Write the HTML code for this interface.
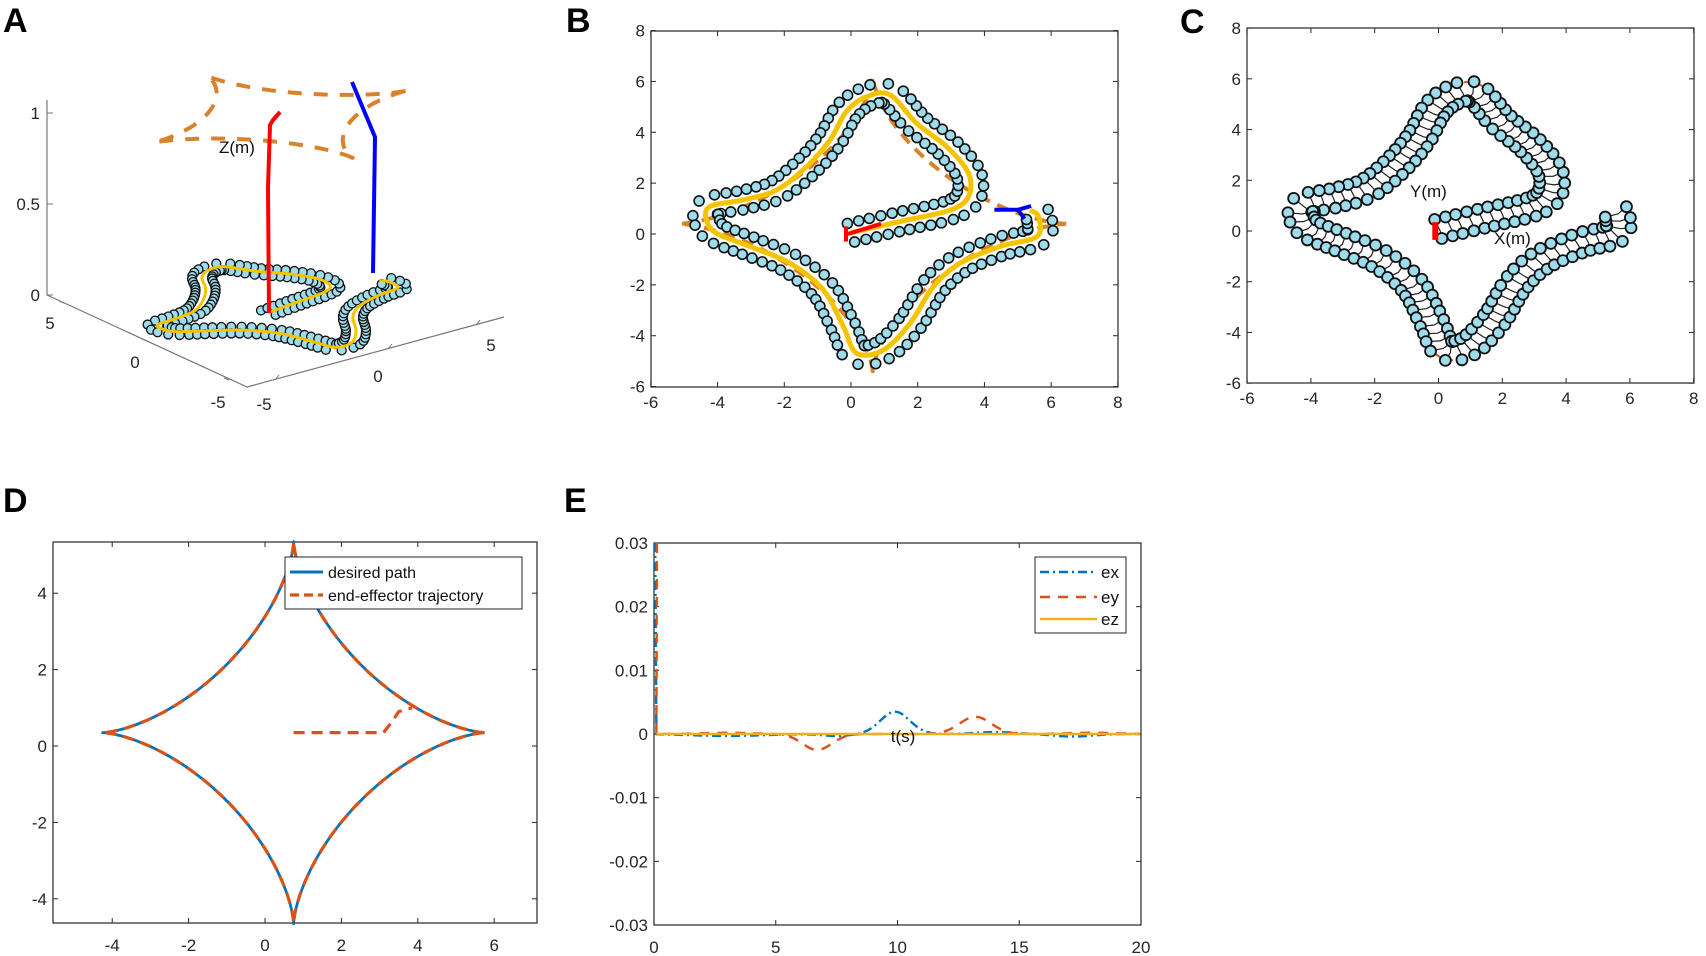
<!DOCTYPE html>
<html><head><meta charset="utf-8"><style>
html,body{margin:0;padding:0;background:#fff;}
svg{display:block;font-family:"Liberation Sans",Arial,sans-serif;}
</style></head><body>
<svg id="s" width="1706" height="956" viewBox="0 0 1706 956" xmlns="http://www.w3.org/2000/svg">
<rect width="1706" height="956" fill="#fff"/>
<g font-weight="bold" font-size="34" fill="#000">
<text x="3" y="32">A</text><text x="566" y="32">B</text><text x="1180" y="33">C</text>
<text x="3" y="512">D</text><text x="564" y="512">E</text>
</g>
<g id="g"></g>
</svg>
<script>
const NS="http://www.w3.org/2000/svg";const G=document.getElementById('g');
function el(t,a,txt){const e=document.createElementNS(NS,t);for(const k in a)e.setAttribute(k,a[k]);if(txt!==undefined)e.textContent=txt;G.appendChild(e);return e;}
function pl(pts,a){a.d='M'+pts.map(p=>p[0].toFixed(1)+' '+p[1].toFixed(1)).join(' L');a.fill='none';a['stroke-linejoin']='round';return el('path',a);}
const TC='#262626';
const cp=[[0,0.05],[1.5,0.5],[2.97,0.94],[3.52,1.47],[3.52,2.39],[2.87,3.43],[1.97,4.35],[1.17,5.47],[0.47,5.4],[-0.13,4.83],[-0.63,3.7],[-1.33,2.65],[-2.23,1.73],[-3.23,1.34],[-4.23,1.08],[-4.33,0.55],[-4.03,0.03],[-3.03,-0.49],[-1.83,-1.15],[-0.83,-2.2],[-0.23,-3.64],[0.17,-4.69],[0.97,-4.56],[1.77,-3.51],[2.47,-2.07],[3.27,-1.15],[4.47,-0.49],[5.57,-0.1],[5.62,0.68],[5.37,0.94]];
function cr(P,n){const out=[];for(let i=0;i<P.length-1;i++){const p0=P[Math.max(i-1,0)],p1=P[i],p2=P[i+1],p3=P[Math.min(i+2,P.length-1)];for(let k=0;k<n;k++){const t=k/n,t2=t*t,t3=t2*t;const q=[];for(let j=0;j<2;j++){q.push(0.5*((2*p1[j])+(-p0[j]+p2[j])*t+(2*p0[j]-5*p1[j]+4*p2[j]-p3[j])*t2+(-p0[j]+3*p1[j]-3*p2[j]+p3[j])*t3));}out.push(q);}}out.push(P[P.length-1]);return out;}
const path=cr(cp,20);
function resample(P,step){const out=[];let acc=step;for(let i=0;i<P.length;i++){if(i>0)acc+=Math.hypot(P[i][0]-P[i-1][0],P[i][1]-P[i-1][1]);if(acc>=step){acc=0;const a=P[Math.max(i-2,0)],b=P[Math.min(i+2,P.length-1)];const dx=b[0]-a[0],dy=b[1]-a[1],L=Math.hypot(dx,dy)||1;out.push({p:P[i],n:[-dy/L,dx/L]});}}return out;}
const S=resample(path,0.3);
function astroid(cx,cy,r,n){const o=[];for(let i=0;i<=n;i++){const t=i/n*2*Math.PI;o.push([cx+r*Math.pow(Math.cos(t),3),cy+r*Math.pow(Math.sin(t),3)]);}return o;}
function box(x0,y0,x1,y1){el('rect',{x:x0,y:y0,width:x1-x0,height:y1-y0,fill:'none',stroke:TC,'stroke-width':1.2});}
function xt(x,y0,y1,lab,ly){el('line',{x1:x,y1:y1,x2:x,y2:y1-5,stroke:TC});el('line',{x1:x,y1:y0,x2:x,y2:y0+5,stroke:TC});el('text',{x:x,y:ly,'font-size':17,fill:TC,'text-anchor':'middle'},lab);}
function yt(y,x0,x1,lab){el('line',{x1:x0,y1:y,x2:x0+5,y2:y,stroke:TC});el('line',{x1:x1,y1:y,x2:x1-5,y2:y,stroke:TC});el('text',{x:x0-6,y:y+6,'font-size':17,fill:TC,'text-anchor':'end'},lab);}
const CYAN='#9edcec';
const OFF=0.38;
// ===== B =====
(function(){const X=x=>851+33.36*x,Y=y=>234-25.43*y,M=p=>[X(p[0]),Y(p[1])];
box(651,31,1118,387);
for(let v=-6;v<=8;v+=2){xt(X(v),31,387,v,408);yt(Y(v),651,1118,v);}
pl(astroid(0.65,0.4,5.8,300).map(M),{stroke:'#d9822b','stroke-width':4,'stroke-dasharray':'12 8'});
for(const s of S)for(const sg of[1,-1]){const p=[s.p[0]+sg*OFF*s.n[0],s.p[1]+sg*OFF*s.n[1]];const q=M(p);el('circle',{cx:q[0],cy:q[1],r:5,fill:CYAN,stroke:'#111','stroke-width':1.6});}
pl(path.map(M),{stroke:'#f5c400','stroke-width':5});
pl([[X(-0.1),Y(0)],[X(0.9),Y(0.4)]],{stroke:'#f00','stroke-width':4});
pl([[X(-0.15),Y(-0.3)],[X(-0.15),Y(0.3)]],{stroke:'#f00','stroke-width':4});
pl([[X(4.3),Y(0.95)],[X(5.0),Y(0.95)],[X(5.4),Y(1.1)]],{stroke:'#00f','stroke-width':4});
pl([[X(5.0),Y(0.95)],[X(5.2),Y(0.6)]],{stroke:'#00f','stroke-width':4});
})();
// ===== C =====
(function(){const X=x=>1438.5+31.9*x,Y=y=>231-25.36*y,M=p=>[X(p[0]),Y(p[1])];
box(1247,28,1694,383);
for(let v=-6;v<=8;v+=2){xt(X(v),28,383,v,404);yt(Y(v),1247,1694,v);}
const A=[],B=[];for(const s of S){A.push(M([s.p[0]+0.42*s.n[0],s.p[1]+0.42*s.n[1]]));B.push(M([s.p[0]-0.36*s.n[0],s.p[1]-0.36*s.n[1]]));}
for(let i=0;i<A.length;i++){const m=[(A[i][0]+B[i][0])/2+2,(A[i][1]+B[i][1])/2+2];pl([A[i],m,B[i]],{stroke:'#222','stroke-width':1.2});}
pl(A,{stroke:'#0072bd','stroke-width':2,'stroke-dasharray':'8 3 2 3'});
pl(B,{stroke:'#d95319','stroke-width':2,'stroke-dasharray':'8 5'});
for(const q of A.concat(B))el('circle',{cx:q[0],cy:q[1],r:5.5,fill:CYAN,stroke:'#111','stroke-width':1.8});
el('rect',{x:X(-0.1)-3,y:Y(0.35),width:6,height:Y(-0.35)-Y(0.35),fill:'#f00'});
el('text',{x:1410,y:197,'font-size':17,fill:'#111'},'Y(m)');
el('text',{x:1494,y:244,'font-size':17,fill:'#111'},'X(m)');
})();
// ===== A =====
(function(){const O=[269,313],k=0.85,ex=[26.9*k,-5.5*k],ey=[-15.6*k,-8.8*k],Z=190;
const P=(x,y,z)=>[O[0]+x*ex[0]+y*ey[0],O[1]+x*ex[1]+y*ey[1]-(z||0)*Z];
const ac='#777';
pl([[47,100],[47,295],[247,387],[504,317]],{stroke:ac,'stroke-width':1.2});
[[113,'1'],[204,'0.5'],[295,'0']].forEach(t=>{el('line',{x1:47,y1:t[0],x2:53,y2:t[0],stroke:ac});el('text',{x:40,y:t[0]+6,'font-size':17,fill:TC,'text-anchor':'end'},t[1]);});
[[50,323,'5'],[135,362,'0'],[218,402,'-5'],[491,345,'5'],[378,376,'0'],[264,404,'-5']].forEach(t=>el('text',{x:t[0],y:t[1]+6,'font-size':17,fill:TC,'text-anchor':'middle'},t[2]));
[[64,303],[147,341],[229,380]].forEach(t=>el('line',{x1:t[0],y1:t[1],x2:t[0]-5,y2:t[1]-2,stroke:ac}));
[[275,380],[388,349],[476,325]].forEach(t=>el('line',{x1:t[0],y1:t[1],x2:t[0]+4,y2:t[1]-5,stroke:ac}));
for(const s of S)for(const sg of[1,-1]){const q=P(s.p[0]+sg*OFF*s.n[0],s.p[1]+sg*OFF*s.n[1]);el('circle',{cx:q[0],cy:q[1],r:4.5,fill:CYAN,stroke:'#111','stroke-width':1.3});}
pl(path.map(p=>P(p[0],p[1])),{stroke:'#f5c400','stroke-width':3});
pl(astroid(0.7,0.4,5.5,300).map(p=>P(p[0],p[1],1.0)),{stroke:'#d9822b','stroke-width':4,'stroke-dasharray':'14 12'});
pl([[269,313],[268,188],[270,125],[273,120],[280,112]],{stroke:'#f00','stroke-width':4});
pl([[373,273],[375,137],[352,82]],{stroke:'#00f','stroke-width':4});
el('text',{x:219,y:153,'font-size':17,fill:'#111'},'Z(m)');
})();
// ===== D =====
(function(){const X=x=>265+38.2*x,Y=y=>746-38.2*y,M=p=>[X(p[0]),Y(p[1])];
box(53,542,537,923);
for(let v=-4;v<=6;v+=2){xt(X(v),542,923,v,951);}
for(let v=-4;v<=4;v+=2)yt(Y(v),53,537,v);
const a=astroid(0.75,0.35,5,400).map(M);
pl(a,{stroke:'#0072bd','stroke-width':2.8});
pl(a,{stroke:'#d95319','stroke-width':3.2,'stroke-dasharray':'11 7'});
const ap=[[0.75,0.35],[3.1,0.35],[3.3,0.6],[3.5,0.9],[3.85,1.0]].map(M);
pl(ap,{stroke:'#d95319','stroke-width':3.2,'stroke-dasharray':'11 7'});
el('rect',{x:285,y:557,width:237,height:52,fill:'#fff',stroke:TC,'stroke-width':1});
pl([[290,572],[323,572]],{stroke:'#0072bd','stroke-width':3});
pl([[290,595],[323,595]],{stroke:'#d95319','stroke-width':3.2,'stroke-dasharray':'9 5'});
el('text',{x:328,y:578,'font-size':16,fill:'#111'},'desired path');
el('text',{x:328,y:601,'font-size':16,fill:'#111'},'end-effector trajectory');
})();
// ===== E =====
(function(){const X=t=>654+24.35*t,Y=e=>734-6367*e;
box(654,543,1141,925);
for(let v=0;v<=20;v+=5)xt(X(v),543,925,v,953);
[[0.03,'0.03'],[0.02,'0.02'],[0.01,'0.01'],[0,'0'],[-0.01,'-0.01'],[-0.02,'-0.02'],[-0.03,'-0.03']].forEach(t=>yt(Y(t[0]),654,1141,t[1]));
const g=(t,c,w)=>Math.exp(-((t-c)*(t-c))/(2*w*w));
const ex=[],ey=[],ez=[];
ex.push([X(0.05),Y(0.03)]);ey.push([X(0.12),Y(0.03)]);
for(let t=0.1;t<=20;t+=0.05){ex.push([X(t),Y(-0.0003*g(t,3,1.5)-0.0003*g(t,7.5,0.6)+0.0035*g(t,9.9,0.6)+0.0003*g(t,14,0.8)-0.0004*g(t,17.2,0.8))]);
ey.push([X(t),Y(0.0002*g(t,3,1)-0.0025*g(t,6.7,0.6)+0.0027*g(t,13.2,0.65)+0.0002*g(t,18,1))]);ez.push([X(t),Y(0)]);}
pl(ex,{stroke:'#0072bd','stroke-width':2.4,'stroke-dasharray':'9 4 2 4'});
pl(ey,{stroke:'#d95319','stroke-width':2.4,'stroke-dasharray':'10 8'});
pl(ez,{stroke:'#edb120','stroke-width':2.4});
el('text',{x:903,y:742,'font-size':17,fill:'#111','text-anchor':'middle'},'t(s)');
el('rect',{x:1035,y:557,width:91,height:76,fill:'#fff',stroke:TC});
pl([[1040,572],[1097,572]],{stroke:'#0072bd','stroke-width':2.4,'stroke-dasharray':'9 4 2 4'});
pl([[1040,597],[1097,597]],{stroke:'#d95319','stroke-width':2.4,'stroke-dasharray':'10 8'});
pl([[1040,619],[1097,619]],{stroke:'#edb120','stroke-width':2.4});
[['ex',577],['ey',602],['ez',624]].forEach(t=>el('text',{x:1101,y:t[1]+1,'font-size':17,fill:'#111'},t[0]));
})();
</script>
</body></html>
